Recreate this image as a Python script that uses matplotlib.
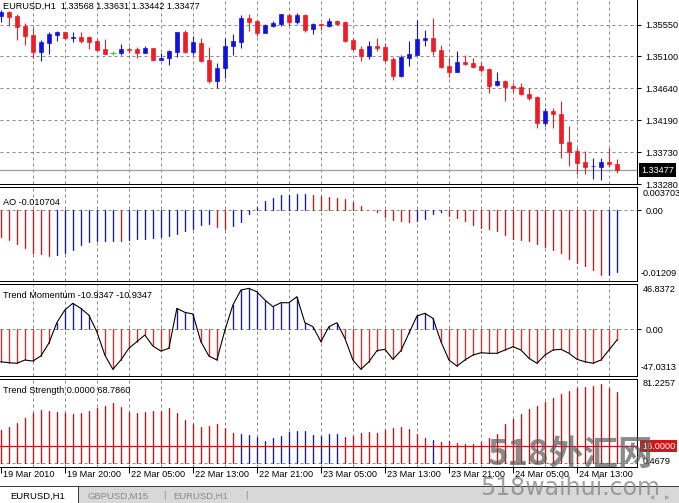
import matplotlib
matplotlib.use("Agg")
import matplotlib.pyplot as plt
from matplotlib.patches import Rectangle
import numpy as np

plt.rcParams["font.family"] = ["Liberation Sans", "DejaVu Sans"]
plt.rcParams["font.size"] = 6.6

# EURUSD H1 ローソク足
opens = [1.35672, 1.35725, 1.35676, 1.35530, 1.35402, 1.35164, 1.35292, 1.35406, 1.35440, 1.35363,
         1.35373, 1.35373, 1.35320, 1.35202, 1.35145, 1.35141, 1.35207, 1.35198, 1.35150, 1.35212,
         1.35050, 1.35070, 1.35164, 1.35449, 1.35164, 1.35292, 1.35046, 1.34751, 1.34927, 1.35249,
         1.35306, 1.35639, 1.35601, 1.35434, 1.35534, 1.35554, 1.35686, 1.35587, 1.35686, 1.35483,
         1.35563, 1.35534, 1.35601, 1.35582, 1.35330, 1.35202, 1.35107, 1.35249, 1.35226, 1.35060,
         1.34818, 1.35078, 1.35117, 1.35330, 1.35363, 1.35188, 1.34960, 1.34879, 1.35021, 1.35007,
         1.34960, 1.34917, 1.34690, 1.34747, 1.34675, 1.34657, 1.34561, 1.34523, 1.34153, 1.34324,
         1.34277, 1.33878, 1.33750, 1.33589, 1.33532, 1.33526, 1.33593, 1.33568]
highs = [1.35758, 1.35743, 1.35701, 1.35577, 1.35501, 1.35330, 1.35449, 1.35463, 1.35449, 1.35444,
         1.35444, 1.35387, 1.35345, 1.35345, 1.35178, 1.35273, 1.35235, 1.35235, 1.35245, 1.35220,
         1.35145, 1.35188, 1.35448, 1.35473, 1.35387, 1.35359, 1.35226, 1.35007, 1.35355, 1.35412,
         1.35686, 1.35701, 1.35615, 1.35554, 1.35605, 1.35705, 1.35696, 1.35711, 1.35700, 1.35568,
         1.35577, 1.35639, 1.35615, 1.35601, 1.35355, 1.35245, 1.35320, 1.35363, 1.35292, 1.35093,
         1.35117, 1.35320, 1.35615, 1.35473, 1.35639, 1.35259, 1.35078, 1.35174, 1.35117, 1.35070,
         1.35021, 1.34936, 1.34879, 1.34755, 1.34722, 1.34714, 1.34651, 1.34530, 1.34366, 1.34358,
         1.34466, 1.34106, 1.33788, 1.33750, 1.33646, 1.33646, 1.33797, 1.33631]
lows = [1.35587, 1.35530, 1.35330, 1.35259, 1.35074, 1.35031, 1.35131, 1.35320, 1.35340, 1.35302,
        1.35292, 1.35202, 1.35174, 1.35128, 1.35113, 1.35117, 1.35141, 1.35070, 1.35141, 1.35036,
        1.35040, 1.34974, 1.35093, 1.35141, 1.35117, 1.35013, 1.34714, 1.34643, 1.34794, 1.35117,
        1.35212, 1.35463, 1.35392, 1.35426, 1.35511, 1.35530, 1.35544, 1.35558, 1.35449, 1.35412,
        1.35473, 1.35520, 1.35544, 1.35298, 1.35188, 1.35031, 1.35060, 1.35178, 1.35021, 1.34761,
        1.34810, 1.34964, 1.35110, 1.35249, 1.35117, 1.34927, 1.34808, 1.34872, 1.34974, 1.34936,
        1.34879, 1.34580, 1.34675, 1.34466, 1.34594, 1.34547, 1.34476, 1.34073, 1.34106, 1.34073,
        1.33654, 1.33540, 1.33422, 1.33422, 1.33347, 1.33337, 1.33526, 1.33442]
closes = [1.35729, 1.35662, 1.35520, 1.35392, 1.35164, 1.35302, 1.35416, 1.35444, 1.35363, 1.35377,
          1.35320, 1.35306, 1.35188, 1.35136, 1.35145, 1.35198, 1.35192, 1.35145, 1.35212, 1.35046,
          1.35074, 1.35174, 1.35440, 1.35155, 1.35298, 1.35031, 1.34747, 1.34927, 1.35245, 1.35320,
          1.35648, 1.35591, 1.35434, 1.35544, 1.35577, 1.35696, 1.35591, 1.35686, 1.35473, 1.35558,
          1.35548, 1.35601, 1.35558, 1.35316, 1.35198, 1.35107, 1.35245, 1.35212, 1.35046, 1.34818,
          1.35084, 1.35131, 1.35345, 1.35355, 1.35174, 1.34950, 1.34879, 1.35021, 1.34989, 1.34950,
          1.34903, 1.34680, 1.34751, 1.34657, 1.34651, 1.34557, 1.34500, 1.34153, 1.34319, 1.34272,
          1.33868, 1.33740, 1.33583, 1.33526, 1.33540, 1.33589, 1.33565, 1.33477]

# AO
ao = [-0.00463, -0.00508, -0.00578, -0.00647, -0.00734, -0.00763, -0.00793, -0.00769, -0.00741, -0.00682,
      -0.00607, -0.00555, -0.00538, -0.00536, -0.00533, -0.00538, -0.00521, -0.00503, -0.00491, -0.00474,
      -0.00463, -0.00446, -0.00404, -0.00359, -0.00318, -0.00248, -0.00243, -0.00290, -0.00318, -0.00272,
      -0.00203, -0.00069, 0.00064, 0.00161, 0.00220, 0.00260, 0.00272, 0.00278, 0.00283, 0.00260,
      0.00243, 0.00231, 0.00213, 0.00191, 0.00144, 0.00069, 0.00012, -0.00029, -0.00116, -0.00174,
      -0.00186, -0.00203, -0.00191, -0.00144, -0.00057, -0.00029, -0.00099, -0.00134, -0.00186, -0.00248,
      -0.00307, -0.00318, -0.00359, -0.00422, -0.00491, -0.00508, -0.00533, -0.00590, -0.00637, -0.00682,
      -0.00734, -0.00838, -0.00914, -0.00972, -0.01041, -0.01116, -0.01128, -0.010704]
ao_dir = "ddddddd" + "uuuuuuuu" + "d" + "uuuuuuuuuuu" + "dd" + "uuuuuuuuuu" + \
         "ddddddddddddd" + "uuuu" + "dddddddddddddddddddd" + "uu"

# Trend Momentum
momentum = [-33.4, -34.4, -35.0, -31.6, -32.7, -27.5, -14.4, 6.8, 19.9, 26.8,
            21.6, 14.7, -2.5, -26.5, -41.2, -31.6, -19.6, -12.7, -5.9, -17.2,
            -22.4, -19.6, 21.6, 17.5, 15.8, -12.7, -27.5, -31.6, -1.0, 25.0,
            40.5, 42.2, 38.7, 30.2, 23.3, 27.4, 27.4, 33.6, 6.8, 2.7,
            -12.7, 2.7, 6.8, -9.3, -31.6, -41.2, -33.4, -22.0, -20.6, -30.9,
            -22.0, -4.1, 13.7, 16.5, 11.3, -12.7, -31.6, -37.8, -31.6, -26.5,
            -24.1, -24.7, -24.7, -21.3, -17.9, -21.3, -29.9, -35.0, -26.5, -21.3,
            -20.6, -24.7, -30.9, -33.4, -35.0, -31.6, -21.3, -10.9347]

# Trend Strength
strength = [31.6, 34.2, 38.1, 43.0, 47.8, 51.0, 50.0, 48.8, 47.8, 46.8,
            47.8, 50.0, 52.6, 54.9, 57.5, 53.6, 49.3, 48.4, 49.3, 50.3,
            50.0, 52.6, 47.8, 41.3, 37.1, 34.8, 35.7, 37.4, 33.8, 28.9,
            27.7, 26.7, 24.5, 21.2, 23.5, 25.7, 29.3, 30.9, 30.6, 26.7,
            25.7, 27.4, 27.4, 25.0, 25.7, 28.9, 29.9, 28.9, 31.6, 33.2,
            34.8, 32.5, 27.7, 24.1, 21.8, 20.2, 20.9, 18.9, 17.6, 17.9,
            20.2, 24.1, 27.7, 37.1, 42.2, 46.8, 51.7, 54.9, 59.1, 62.4,
            66.5, 69.8, 72.1, 73.1, 74.3, 76.0, 72.7, 68.786]
strength_dir = "d" * 30 + "u" * 13 + "d" * 11 + "u" + "d" * 23
strength_level = 16.0

price_ticks = [1.35550, 1.35100, 1.34640, 1.34190, 1.33730]
time_labels = ["19 Mar 2010", "19 Mar 20:00", "22 Mar 05:00", "22 Mar 13:00", "22 Mar 21:00",
               "23 Mar 05:00", "23 Mar 13:00", "23 Mar 21:00", "24 Mar 05:00", "24 Mar 13:00"]

W, H = 679, 503
RED, BLUE, GREEN = "#ee1c24", "#1212e0", "#2ed62e"
AO_RED, AO_BLUE = "#c41c1c", "#1c1ca0"
TM_RED, TS_RED = "#d43030", "#c01414"
GRID = "#8a8a8a"
PX = 0.72  # 1px in pt


def rect(x0, y0, x1, y1):
    return [x0 / W, 1 - y1 / H, (x1 - x0) / W, (y1 - y0) / H]


def hist(ax, xs, vals, colors):
    # 1px の線 + JPEG のにじみ風の薄い縁
    ax.vlines(xs, 0, vals, colors=colors, lw=PX * 3, alpha=0.18)
    ax.vlines(xs, 0, vals, colors=colors, lw=PX, antialiased=False)


fig = plt.figure(figsize=(W / 100, H / 100), dpi=100)
ax_p = fig.add_axes(rect(0, 0, 637, 184))
ax_ao = fig.add_axes(rect(0, 187, 637, 281))
ax_tm = fig.add_axes(rect(0, 284, 637, 376))
ax_ts = fig.add_axes(rect(0, 379, 637, 467))

n = len(closes)
x = np.arange(n)
for ax in (ax_p, ax_ao, ax_tm, ax_ts):
    ax.set_xlim(-0.1, 79.5)
    ax.set_xticks([])
    ax.spines["left"].set_visible(False)
    for s in ("top", "bottom", "right"):
        ax.spines[s].set_linewidth(PX)
        ax.spines[s].set_color("black")
    ax.yaxis.tick_right()
    ax.tick_params(axis="y", length=3, width=PX, pad=3, labelsize=6.6, colors="black")
    for g in range(4, 80, 4):
        ax.axvline(g, color=GRID, lw=PX, ls=(0, (3, 3)), zorder=0)
ax_p.spines["top"].set_visible(False)

# --- price pane ---
ax_p.set_ylim(1.33280, 1.35900)
for lv in price_ticks:
    ax_p.axhline(lv, color=GRID, lw=PX, ls=(0, (3, 3)), zorder=0)
ax_p.set_yticks(price_ticks + [1.33280])
ax_p.set_yticklabels([f"{v:.5f}" for v in price_ticks] + ["1.33280"])
ax_p.axhline(closes[-1], color="#a0a0a0", lw=PX * 1.3, zorder=1)

o = np.array(opens)
c = np.array(closes)
cols = [BLUE if cc > oo else (RED if cc < oo else GREEN) for oo, cc in zip(opens, closes)]
ax_p.vlines(x, lows, highs, colors=cols, lw=PX * 1.1, zorder=2)
body_lo = np.minimum(o, c)
body_h = np.abs(c - o)
ax_p.bar(x, body_h, bottom=body_lo, width=0.56, color=cols, edgecolor=cols, linewidth=0.5, zorder=3)
for i in range(n):
    if opens[i] == closes[i]:
        ax_p.hlines(opens[i], i - 0.35, i + 0.35, colors=GREEN, lw=PX * 1.2, zorder=3)
ax_p.text(0.005, 0.965, "EURUSD,H1  %.5f %.5f %.5f %.5f" % (opens[-1], highs[-1], lows[-1], closes[-1]),
          transform=ax_p.transAxes, va="center", ha="left", fontsize=6.6)
ax_p.annotate(f"{closes[-1]:.5f}", xy=(1, closes[-1]), xycoords=("axes fraction", "data"),
              xytext=(4, 0), textcoords="offset pixels", va="center", ha="left", color="white",
              fontsize=6.6, bbox=dict(boxstyle="square,pad=0.25", fc="black", ec="none"),
              annotation_clip=False)

# --- AO pane ---
ax_ao.set_ylim(-0.01226, 0.00405)
ax_ao.axhline(0, color=GRID, lw=PX, ls=(0, (3, 3)), zorder=0)
hist(ax_ao, x, ao, [AO_BLUE if d == "u" else AO_RED for d in ao_dir])
ax_ao.set_yticks([0])
ax_ao.set_yticklabels(["0.00"])
ax_ao.text(0.005, 0.83, f"AO {ao[-1]:.6f}", transform=ax_ao.transAxes, va="center", ha="left")
ax_ao.annotate("0.003703", xy=(1, 1), xycoords="axes fraction", xytext=(6, -7),
               textcoords="offset pixels", va="center", ha="left")
ax_ao.annotate("-0.01209", xy=(1, 0), xycoords="axes fraction", xytext=(4, 8),
               textcoords="offset pixels", va="center", ha="left")

# --- Trend Momentum pane ---
ax_tm.set_ylim(-48.1, 46.7)
ax_tm.axhline(0, color=GRID, lw=PX, ls=(0, (3, 3)), zorder=0)
hist(ax_tm, x, momentum, [AO_BLUE if v > 0 else TM_RED for v in momentum])
ax_tm.plot(x, momentum, color="black", lw=PX * 1.1)
ax_tm.set_yticks([0])
ax_tm.set_yticklabels(["0.00"])
ax_tm.text(0.005, 0.87, f"Trend Momentum {momentum[-1]:.4f} {momentum[-1]:.4f}",
           transform=ax_tm.transAxes, va="center", ha="left")
ax_tm.annotate("46.8372", xy=(1, 1), xycoords="axes fraction", xytext=(6, -6),
               textcoords="offset pixels", va="center", ha="left")
ax_tm.annotate("-47.0313", xy=(1, 0), xycoords="axes fraction", xytext=(4, 9),
               textcoords="offset pixels", va="center", ha="left")

# --- Trend Strength pane ---
ax_ts.set_ylim(-4.3, 81.2)
ax_ts.axhline(0, color=GRID, lw=PX, ls=(0, (3, 3)), zorder=0)
hist(ax_ts, x, strength, [AO_BLUE if d == "u" else TS_RED for d in strength_dir])
ax_ts.axhline(strength_level, color="#c01818", lw=PX * 1.2, zorder=3)
ax_ts.set_yticks([])
ax_ts.text(0.005, 0.87, f"Trend Strength 0.0000 {strength[-1]:.4f}",
           transform=ax_ts.transAxes, va="center", ha="left")
ax_ts.annotate("81.2257", xy=(1, 1), xycoords="axes fraction", xytext=(6, -5),
               textcoords="offset pixels", va="center", ha="left")
ax_ts.annotate("0.4679", xy=(1, 0), xycoords="axes fraction", xytext=(6, 6),
               textcoords="offset pixels", va="center", ha="left")
ax_ts.annotate(f"{strength_level:.4f}", xy=(1, strength_level), xycoords=("axes fraction", "data"),
               xytext=(5, 0), textcoords="offset pixels", va="center", ha="left", color="white",
               bbox=dict(boxstyle="square,pad=0.2", fc="#d01818", ec="none"), annotation_clip=False)

# time axis
ax_ts.set_xticks(range(0, 80, 8))
ax_ts.tick_params(axis="x", direction="out", length=4, width=PX, labelbottom=False)
for k, lab in enumerate(time_labels):
    ax_ts.annotate(lab, xy=(k * 8, 0), xycoords=("data", "axes fraction"), xytext=(2, -3),
                   textcoords="offset pixels", va="top", ha="left", fontsize=6.6,
                   annotation_clip=False)

# overlay: tab bar and watermark
ov = fig.add_axes([0, 0, 1, 1], zorder=10)
ov.set_xlim(0, W)
ov.set_ylim(H, 0)
ov.axis("off")
ov.patch.set_alpha(0)
ov.add_patch(Rectangle((0, 486), W, 17, fc="#d8d8d8", ec="none"))
ov.plot([0, W], [486, 486], color="#404040", lw=PX)
ov.add_patch(Rectangle((0, 487), 78, 16, fc="white", ec="none"))
ov.plot([78, 78], [487, 503], color="#404040", lw=PX)
ov.text(10, 496, "EURUSD,H1", fontsize=6.8, va="center", ha="left", color="black")
ov.text(88, 496, "GBPUSD,M15", fontsize=6.8, va="center", ha="left", color="#8a8a8a")
ov.text(163, 496, "|", fontsize=6.8, va="center", ha="left", color="#8a8a8a")
ov.text(173, 496, "EURUSD,H1", fontsize=6.8, va="center", ha="left", color="#8a8a8a")
ov.text(245, 496, "|", fontsize=6.8, va="center", ha="left", color="#8a8a8a")
ov.text(650, 498, "◀", fontsize=4, va="center", ha="left", color="#a0a0a0", family="DejaVu Sans")
ov.text(665, 498, "▶", fontsize=4, va="center", ha="left", color="#a0a0a0", family="DejaVu Sans")
ov.text(487, 455, "518外汇网", fontsize=25, va="center", ha="left", color="#5a5a5a", alpha=0.7,
        family=["Noto Sans CJK SC"], fontweight="bold")
ov.text(480, 488, "518waihui.com", fontsize=17, va="center", ha="left", color="#8a8a8a", alpha=0.8,
        family="DejaVu Sans")

fig.savefig("out.png", dpi=100)
